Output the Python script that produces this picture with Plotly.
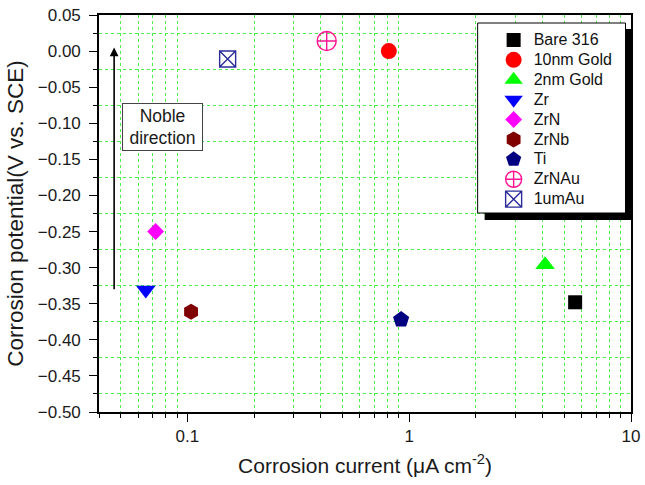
import math
import plotly.graph_objects as go

# Corrosion data for each coating
samples = ["Bare 316", "10nm Gold", "2nm Gold", "Zr", "ZrN", "ZrNb", "Ti", "ZrNAu", "1umAu"]
current = [5.6, 0.81, 4.1, 0.065, 0.072, 0.104, 0.92, 0.425, 0.152]   # µA cm^-2
potential = [-0.348, 0.0, -0.296, -0.331, -0.250, -0.361, -0.372, 0.014, -0.011]  # V vs SCE

symbols = ["square", "circle", "triangle-up", "triangle-down", "diamond", "hexagon",
           "pentagon", "circle-cross-open", "square-x-open"]
colors = ["#000000", "#FF0000", "#00FF00", "#0000FF", "#FF00FF", "#800000",
          "#000080", "#FF1493", "#2B2B9A"]
sizes = [14, 16, 17, 17, 13, 16, 17, 19, 16]

x_ticks = [0.1, 1, 10]
x_tick_text = ["0.1", "1", "10"]

FONT = "Liberation Sans, Arial, sans-serif"
GRID = "#4CEE4C"
GRID_DASH = "dot"
TXT = "#1a1a1a"

fig = go.Figure()
for name, x, y, sym, col, sz in zip(samples, current, potential, symbols, colors, sizes):
    open_sym = sym.endswith("-open")
    fig.add_trace(go.Scatter(
        x=[x], y=[y], mode="markers",
        name=f'<span style="font-size:16px">{name}</span>',
        marker=dict(symbol=sym, size=sz, color=col,
                    line=dict(color=col, width=1.4 if open_sym else 0)),
    ))

minor_x = [m * 10 ** e for e in (-2, -1, 0) for m in range(2, 10)]

fig.update_xaxes(
    type="log", range=[math.log10(0.04), 1], automargin=False,
    tickvals=x_ticks, ticktext=x_tick_text,
    ticks="outside", ticklen=8, tickwidth=1.3, tickcolor="black",
    showline=True, linecolor="black", linewidth=1.6, mirror=True,
    showgrid=False, zeroline=False,
    minor=dict(tickvals=minor_x, ticks="outside", ticklen=4, tickwidth=1.3,
               tickcolor="black", showgrid=True, gridcolor=GRID,
               griddash=GRID_DASH, gridwidth=1),
    tickfont=dict(family=FONT, size=17, color=TXT),
    title=dict(text="Corrosion current (\u03bcA cm<sup>-2</sup>)",
               font=dict(family=FONT, size=21, color=TXT), standoff=13),
)
fig.update_yaxes(
    range=[-0.5, 0.05], dtick=0.05, tick0=0, tickformat=".2f", automargin=False,
    ticks="outside", ticklen=8, tickwidth=1.3, tickcolor="black",
    showline=True, linecolor="black", linewidth=1.6, mirror=True,
    showgrid=False, zeroline=False, ticklabelstandoff=5,
    minor=dict(dtick=0.025, ticks="outside", ticklen=4, tickwidth=1.3,
               tickcolor="black", showgrid=True, gridcolor=GRID,
               griddash=GRID_DASH, gridwidth=1),
    tickfont=dict(family=FONT, size=17, color=TXT),
    title=dict(text="Corrosion potential(V vs. SCE)",
               font=dict(family=FONT, size=22.5, color=TXT), standoff=8),
)

# "Noble direction" arrow and label
fig.add_annotation(
    x=math.log10(0.0468), y=0.005, ax=math.log10(0.0468), ay=-0.332,
    xref="x", yref="y", axref="x", ayref="y",
    showarrow=True, arrowhead=2, arrowsize=1.1, arrowwidth=1.6, arrowcolor="black",
    text="",
)
fig.add_annotation(
    x=math.log10(0.0772), y=-0.1055, xref="x", yref="y",
    text="Noble<br>direction", showarrow=False,
    font=dict(family=FONT, size=17.5, color=TXT),
    width=77, height=44, align="center", valign="middle",
    bgcolor="white", bordercolor="#444", borderwidth=1, borderpad=1,
)

# legend frame with a drop shadow
W, H = 645, 485
ml, mr, mt, mb = 99, 13.5, 15, 73
pw, ph = W - ml - mr, H - mt - mb


def px_x(p):
    return (p - ml) / pw


def px_y(p):
    return 1 - (p - mt) / ph


fig.add_shape(type="rect", xref="paper", yref="paper",
              x0=px_x(485), x1=px_x(632.5), y0=px_y(220), y1=px_y(29),
              fillcolor="black", line=dict(width=0), layer="above")
fig.add_shape(type="rect", xref="paper", yref="paper",
              x0=px_x(478), x1=px_x(626), y0=px_y(213), y1=px_y(23),
              fillcolor="white", line=dict(color="black", width=1), layer="above")

fig.update_layout(
    width=W, height=H,
    margin=dict(l=ml, r=mr, t=mt, b=mb),
    paper_bgcolor="white", plot_bgcolor="white",
    font=dict(family=FONT, size=14, color=TXT),
    legend=dict(x=px_x(494), y=px_y(25), xanchor="left", yanchor="top",
                bgcolor="rgba(0,0,0,0)", borderwidth=0,
                font=dict(family=FONT, size=13, color="#111"),
                itemwidth=30),
    showlegend=True,
)

fig.write_html("out.html")
